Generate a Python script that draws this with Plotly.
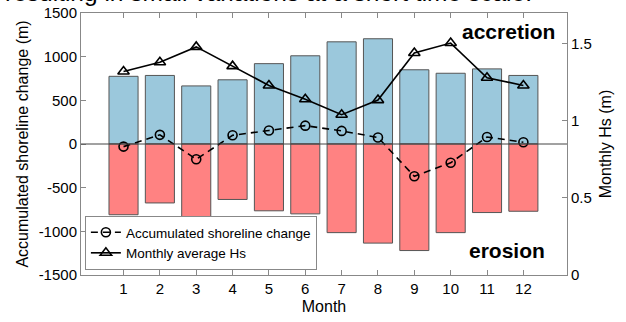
import plotly.graph_objects as go

months = list(range(1, 13))
accretion = [775, 785, 665, 735, 920, 1010, 1170, 1205, 850, 810, 860, 785]
erosion = [-810, -675, -835, -635, -765, -800, -1015, -1135, -1220, -1015, -785, -770]
shoreline = [-30, 105, -175, 100, 155, 210, 150, 75, -370, -215, 80, 20]
hs = [1.32, 1.38, 1.48, 1.355, 1.23, 1.14, 1.04, 1.135, 1.44, 1.505, 1.28, 1.23]

left_ticks = [-1500, -1000, -500, 0, 500, 1000, 1500]
right_ticks = [0, 0.5, 1, 1.5]

FONT = "Liberation Sans, Arial, sans-serif"
fig = go.Figure()

fig.add_trace(go.Bar(x=months, y=accretion, width=0.8, marker=dict(color="#9BC8DC", line=dict(color="#555555", width=1)),
                     showlegend=False))
fig.add_trace(go.Bar(x=months, y=erosion, width=0.8, marker=dict(color="#FF8282", line=dict(color="#555555", width=1)),
                     showlegend=False))
fig.add_trace(go.Scatter(x=months, y=shoreline, mode="lines+markers", name="Accumulated shoreline change",
                         line=dict(color="black", width=1.6, dash="7px,5px"),
                         marker=dict(symbol="circle-open", size=9, color="black", line=dict(width=1.6))))
fig.add_trace(go.Scatter(x=months, y=hs, mode="lines+markers", name="Monthly average Hs", yaxis="y2",
                         line=dict(color="black", width=1.6),
                         marker=dict(symbol="triangle-up-open", size=10, color="black", line=dict(width=1.6))))

axis_common = dict(showgrid=False, zeroline=False, linecolor="#888888", linewidth=1,
                   ticks="inside", ticklen=5, tickcolor="#888888", automargin=False,
                   tickfont=dict(family=FONT, size=15, color="black"))

fig.update_layout(
    width=626, height=322,
    margin=dict(l=81, r=59, t=13, b=47),
    paper_bgcolor="white", plot_bgcolor="white",
    barmode="overlay",
    font=dict(family=FONT, color="black"),
    xaxis=dict(range=[-0.17, 13.2], tickvals=months, mirror="ticks",
               title=dict(text="Month", font=dict(family=FONT, size=16), standoff=4), **axis_common),
    yaxis=dict(range=[-1500, 1500], tickvals=left_ticks, ticktext=[str(v) for v in left_ticks],
               title=dict(text="Accumulated shoreline change (m)", font=dict(family=FONT, size=16), standoff=6),
               **axis_common),
    yaxis2=dict(range=[0, 1.7], tickvals=right_ticks, ticktext=["0", "0.5", "1", "1.5"], overlaying="y", side="right",
                title=dict(text="Monthly Hs (m)", font=dict(family=FONT, size=16), standoff=8), **axis_common),
    legend=dict(x=0.008, y=(275 - 243) / 262, xanchor="left", yanchor="middle", bgcolor="white",
                bordercolor="#888888", borderwidth=1, font=dict(family=FONT, size=13.5),
                tracegroupgap=0, itemwidth=30),
    shapes=[dict(type="line", xref="paper", x0=0, x1=1, yref="y", y0=0, y1=0,
                 line=dict(color="#444444", width=1), layer="above")],
    annotations=[
        dict(text="<b>accretion</b>", xref="paper", yref="paper", x=(557 - 81) / 486, y=(275 - 32) / 262,
             xanchor="right", yanchor="middle",
             showarrow=False, font=dict(family=FONT, size=21, color="black")),
        dict(text="<b>erosion</b>", xref="paper", yref="paper", x=(547 - 81) / 486, y=(275 - 250) / 262,
             xanchor="right", yanchor="middle",
             showarrow=False, font=dict(family=FONT, size=21, color="black")),
        dict(text="resulting in small variations at a short time scale.", xref="paper", yref="paper",
             x=(3 - 81) / 486, y=(275 - 8) / 262, xanchor="left", yanchor="bottom", showarrow=False,
             font=dict(family=FONT, size=24.5, color="black")),
    ],
)

fig.write_html("out.html", config={"displayModeBar": False},
               post_script="document.body.style.margin='0';")
